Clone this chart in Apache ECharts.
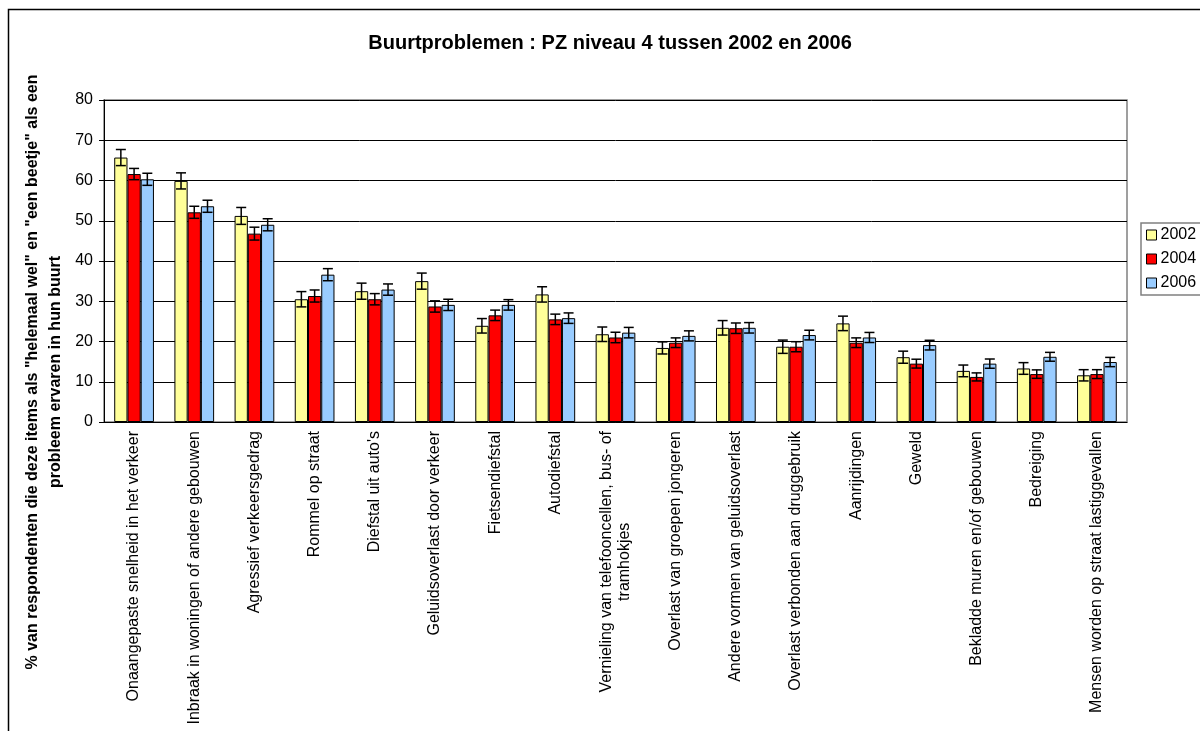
<!DOCTYPE html>
<html>
<head>
<meta charset="utf-8">
<title>Buurtproblemen</title>
<script src="https://cdn.jsdelivr.net/npm/echarts@6/dist/echarts.min.js"></script>
<style>
  html, body { margin: 0; padding: 0; background: #fff; }
  #chart { width: 1200px; height: 731px; }
</style>
</head>
<body>
<div id="chart"></div>
<script>
// categorieën (x-as)
var categories = [
  'Onaangepaste snelheid in het verkeer',
  'Inbraak in woningen of andere gebouwen',
  'Agressief verkeersgedrag',
  'Rommel op straat',
  "Diefstal uit auto's",
  'Geluidsoverlast door verkeer',
  'Fietsendiefstal',
  'Autodiefstal',
  'Vernieling van telefooncellen, bus- of\ntramhokjes',
  'Overlast van groepen jongeren',
  'Andere vormen van geluidsoverlast',
  'Overlast verbonden aan druggebruik',
  'Aanrijdingen',
  'Geweld',
  'Bekladde muren en/of gebouwen',
  'Bedreiging',
  'Mensen worden op straat lastiggevallen'
];
var years = ['2002', '2004', '2006'];
var yTicks = [0, 80, 10]; // min, max, interval

// percentages per jaar
var values2002 = [65.7, 59.9, 51.2, 30.5, 32.5, 35.0, 23.9, 31.7, 21.8, 18.4, 23.4, 18.7, 24.5, 16.1, 12.7, 13.3, 11.6];
var values2004 = [61.6, 52.1, 46.8, 31.3, 30.5, 28.7, 26.5, 25.5, 21.0, 19.7, 23.3, 18.7, 19.7, 14.5, 11.2, 11.9, 11.9];
var values2006 = [60.3, 53.6, 49.0, 36.6, 32.9, 29.1, 29.1, 25.8, 22.2, 21.4, 23.4, 21.6, 21.0, 19.1, 14.5, 16.2, 14.9];

// foutmarge (+/-) per jaar
var err2002 = [2.0, 2.0, 2.1, 1.9, 2.0, 2.0, 1.8, 1.9, 1.8, 1.5, 1.8, 1.65, 1.8, 1.5, 1.45, 1.45, 1.4];
var err2004 = [1.4, 1.5, 1.6, 1.5, 1.4, 1.4, 1.3, 1.3, 1.3, 1.2, 1.3, 1.25, 1.2, 1.1, 1.0, 1.05, 1.1];
var err2006 = [1.5, 1.5, 1.5, 1.5, 1.4, 1.4, 1.3, 1.3, 1.3, 1.25, 1.3, 1.2, 1.25, 1.2, 1.15, 1.1, 1.15];

var colors = ['#FFFF99', '#FF0000', '#99CCFF'];
var FONT = "'Liberation Sans', Arial, sans-serif";
var CAT_GAP = 0.34;

var allValues = [values2002, values2004, values2006];
var allErrors = [err2002, err2004, err2006];

function errorData(vals, errs) {
  return vals.map(function (v, i) { return [i, v - errs[i], v + errs[i]]; });
}

function errorSeries(k) {
  return {
    type: 'custom',
    name: 'err' + years[k],
    z: 5,
    silent: true,
    encode: { x: 0, y: [1, 2] },
    data: errorData(allValues[k], allErrors[k]),
    renderItem: function (params, api) {
      var cat = api.value(0);
      var lo = api.coord([cat, api.value(1)]);
      var hi = api.coord([cat, api.value(2)]);
      var bandW = api.size([1, 0])[0];
      var barW = bandW * (1 - CAT_GAP) / 3;
      var x = lo[0] + (k - 1) * barW;
      var cap = 5;
      var st = { stroke: '#000', lineWidth: 1.5 };
      return {
        type: 'group',
        children: [
          { type: 'line', shape: { x1: x, y1: lo[1], x2: x, y2: hi[1] }, style: st },
          { type: 'line', shape: { x1: x - cap, y1: lo[1], x2: x + cap, y2: lo[1] }, style: st },
          { type: 'line', shape: { x1: x - cap, y1: hi[1], x2: x + cap, y2: hi[1] }, style: st }
        ]
      };
    }
  };
}

var chart = echarts.init(document.getElementById('chart'), null, { renderer: 'canvas' });

var series = [];
years.forEach(function (y, k) {
  series.push({
    name: y,
    type: 'bar',
    barGap: '0%',
    barCategoryGap: (CAT_GAP * 100) + '%',
    itemStyle: { color: colors[k], borderColor: '#000', borderWidth: 1 },
    data: allValues[k]
  });
});
years.forEach(function (y, k) { series.push(errorSeries(k)); });

chart.setOption({
  animation: false,
  backgroundColor: '#fff',
  textStyle: { fontFamily: FONT },
  title: {
    text: 'Buurtproblemen : PZ niveau 4 tussen 2002 en 2006',
    left: 605,
    top: 28,
    textAlign: 'center',
    textStyle: { fontFamily: FONT, fontSize: 20, fontWeight: 'bold', color: '#000' }
  },
  legend: {
    data: years,
    orient: 'vertical',
    left: 1141,
    top: 223,
    itemWidth: 10,
    itemHeight: 10,
    itemGap: 8,
    padding: [4, 8, 4, 5],
    icon: 'rect',
    borderColor: '#808080',
    borderWidth: 1.5,
    backgroundColor: '#fff',
    itemStyle: { borderColor: '#000', borderWidth: 1 },
    textStyle: { fontFamily: FONT, fontSize: 16, color: '#000', padding: [0, 0, 0, -1] }
  },
  grid: {
    left: 104,
    right: 73,
    top: 100,
    bottom: 309,
    show: true,
    borderColor: '#808080',
    borderWidth: 1.5,
    backgroundColor: '#fff'
  },
  xAxis: {
    type: 'category',
    data: categories,
    axisLine: { lineStyle: { color: '#000', width: 1 } },
    axisTick: { length: 5, lineStyle: { color: '#000' } },
    axisLabel: {
      interval: 0,
      rotate: 90,
      margin: 9,
      color: '#000',
      fontFamily: FONT,
      fontSize: 16,
      formatter: function (v) {
        return v.split('\n').map(function (s) { return '{c|' + s + '}'; }).join('\n');
      },
      rich: {
        c: { align: 'center', fontFamily: FONT, fontSize: 16, color: '#000', lineHeight: 18 }
      }
    }
  },
  yAxis: {
    type: 'value',
    min: yTicks[0],
    max: yTicks[1],
    interval: yTicks[2],
    axisLine: { show: true, lineStyle: { color: '#000', width: 1 } },
    axisTick: { show: true, length: 5, lineStyle: { color: '#000' } },
    axisLabel: { margin: 11, color: '#000', fontFamily: FONT, fontSize: 16 },
    splitLine: { lineStyle: { color: '#000', width: 1 } }
  },
  graphic: [
    {
      type: 'rect',
      silent: true,
      shape: { x: 8.5, y: 9.5, width: 1300, height: 900 },
      style: { fill: 'none', stroke: '#000', lineWidth: 1.5 }
    },
    {
      type: 'text',
      x: 44.5,
      y: 372,
      rotation: Math.PI / 2,
      style: {
        text: '% van respondenten die deze items als "helemaal wel" en "een beetje" als een\nprobleem ervaren in hun buurt',
        font: 'bold 16px ' + FONT,
        fill: '#000',
        align: 'center',
        verticalAlign: 'middle',
        lineHeight: 23
      }
    }
  ],
  series: series
});
</script>
</body>
</html>
